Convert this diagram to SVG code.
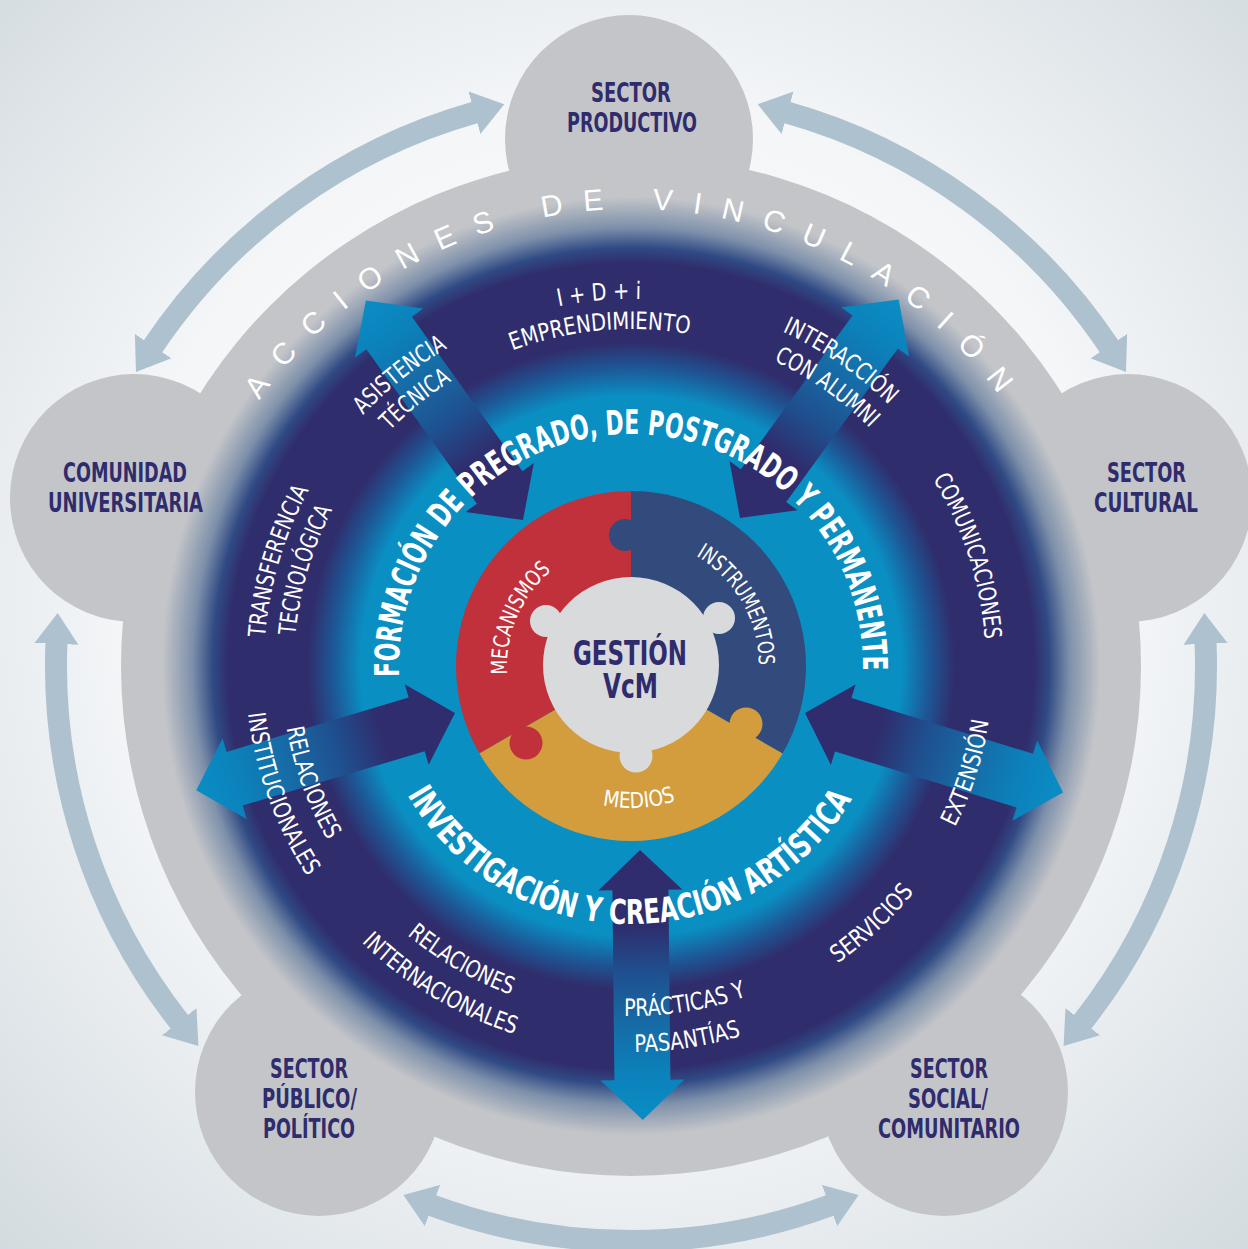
<svg xmlns="http://www.w3.org/2000/svg" width="1248" height="1249" viewBox="0 0 1248 1249">
<defs>
<style>
.lbl{font-family:"Liberation Sans Narrow","DejaVu Sans Condensed","Roboto Condensed","Liberation Sans",Arial,sans-serif;font-size:24px;fill:#ffffff;}
.bld{font-family:"Liberation Sans Narrow","DejaVu Sans Condensed","Roboto Condensed","Liberation Sans",Arial,sans-serif;font-weight:bold;font-size:34px;fill:#ffffff;}
.sec{font-family:"Liberation Sans Narrow","DejaVu Sans Condensed","Roboto Condensed","Liberation Sans",Arial,sans-serif;font-weight:bold;font-size:26px;fill:#2e2c6c;text-anchor:middle;}
.acc{font-family:"Liberation Sans",Arial,sans-serif;font-size:30px;fill:#ffffff;}
.circ{fill:#c4c5c9;}
.la{fill:none;stroke:#adc2ce;stroke-width:22;marker-start:url(#lh);marker-end:url(#lh);}
.da{fill:url(#ag);}
.cg{fill:#d9dadc;}
</style>
<radialGradient id="bg" cx="624" cy="600" r="900" gradientUnits="userSpaceOnUse">
<stop offset="0" stop-color="#ffffff"/>
<stop offset="0.55" stop-color="#f4f6f8"/>
<stop offset="1" stop-color="#d3dbe0"/>
</radialGradient>
<radialGradient id="disk" cx="631" cy="666" r="510" gradientUnits="userSpaceOnUse">
<stop offset="0" stop-color="#0a8fc3"/>
<stop offset="0.53" stop-color="#0a8fc3"/>
<stop offset="0.585" stop-color="#1d5796"/>
<stop offset="0.635" stop-color="#302d6c"/>
<stop offset="0.79" stop-color="#302d6c"/>
<stop offset="0.82" stop-color="#2f4a84"/>
<stop offset="0.86" stop-color="#7d90aa"/>
<stop offset="0.92" stop-color="#c4c5c9"/>
<stop offset="1" stop-color="#c4c5c9"/>
</radialGradient>
<linearGradient id="ag" gradientUnits="userSpaceOnUse" x1="0" y1="0" x2="270" y2="0">
<stop offset="0" stop-color="#2f2d6d"/>
<stop offset="0.28" stop-color="#2f2d6d"/>
<stop offset="0.45" stop-color="#1f4f8e"/>
<stop offset="0.63" stop-color="#1769a4"/>
<stop offset="0.82" stop-color="#0c80ba"/>
<stop offset="1" stop-color="#0a8ec4"/>
</linearGradient>
<marker id="lh" markerUnits="userSpaceOnUse" markerWidth="32" markerHeight="46" viewBox="-1 -23 32 46" refX="0" refY="0" orient="auto-start-reverse">
<path d="M-1,-22 L30,0 L-1,22 Z" fill="#adc2ce"/>
</marker>
<path id="cw367" d="M631,1033 A367,367 0 0 1 631,299 A367,367 0 0 1 631,1033"/>
<path id="cw337" d="M631,1003 A337,337 0 0 1 631,329 A337,337 0 0 1 631,1003"/>
<path id="cw355" d="M631,1021 A355,355 0 0 1 631,311 A355,355 0 0 1 631,1021"/>
<path id="cw232" d="M631,898 A232,232 0 0 1 631,434 A232,232 0 0 1 631,898"/>
<path id="cw124" d="M631,790 A124,124 0 0 1 631,542 A124,124 0 0 1 631,790"/>
<path id="cw128" d="M631,794 A128,128 0 0 1 631,538 A128,128 0 0 1 631,794"/>
<path id="cw457" d="M631,1123 A457,457 0 0 1 631,209 A457,457 0 0 1 631,1123"/>
<path id="ccw350" d="M631,316 A350,350 0 0 0 631,1016 A350,350 0 0 0 631,316"/>
<path id="ccw386" d="M631,280 A386,386 0 0 0 631,1052 A386,386 0 0 0 631,280"/>
<path id="ccw362" d="M631,304 A362,362 0 0 0 631,1028 A362,362 0 0 0 631,304"/>
<path id="ccw258" d="M631,408 A258,258 0 0 0 631,924 A258,258 0 0 0 631,408"/>
<path id="ccw142" d="M631,524 A142,142 0 0 0 631,808 A142,142 0 0 0 631,524"/>
</defs>

<rect x="0" y="0" width="1248" height="1249" fill="url(#bg)"/>

<g id="connectors">
<g id="outer-cycle">
<path class="la" d="M152.63,346.97 A575,575 0 0 1 475.40,112.45"/>
<path class="la" d="M786.60,112.45 A575,575 0 0 1 1109.37,346.97"/>
<path class="la" d="M1205.54,642.93 A575,575 0 0 1 1082.16,1022.47"/>
<path class="la" d="M830.49,1205.29 A575,575 0 0 1 431.51,1205.29"/>
<path class="la" d="M179.84,1022.47 A575,575 0 0 1 56.46,642.93"/>
</g>
</g>

<g id="sector-productivo"><circle class="circ" cx="629" cy="139" r="124"/></g>
<g id="comunidad-universitaria"><circle class="circ" cx="134" cy="498" r="124"/></g>
<g id="sector-cultural"><circle class="circ" cx="1128" cy="498" r="124"/></g>
<g id="sector-publico"><circle class="circ" cx="319" cy="1092" r="124"/></g>
<g id="sector-social"><circle class="circ" cx="944" cy="1092" r="124"/></g>

<g id="acciones-ring">
<circle cx="631" cy="666" r="510" fill="url(#disk)"/>
</g>

<g id="radial-arrows">
<path class="da" transform="translate(523,520) rotate(-125.6)" d="M0,0 L40,-42 L40,-28 L230,-28 L230,-42 L270,0 L230,42 L230,28 L40,28 L40,42 Z"/>
<path class="da" transform="translate(740,518) rotate(-54)" d="M0,0 L40,-42 L40,-28 L230,-28 L230,-42 L270,0 L230,42 L230,28 L40,28 L40,42 Z"/>
<path class="da" transform="translate(805,713) rotate(17.1)" d="M0,0 L40,-42 L40,-28 L230,-28 L230,-42 L270,0 L230,42 L230,28 L40,28 L40,42 Z"/>
<path class="da" transform="translate(640,850) rotate(89.4)" d="M0,0 L40,-42 L40,-28 L230,-28 L230,-42 L270,0 L230,42 L230,28 L40,28 L40,42 Z"/>
<path class="da" transform="translate(455,713) rotate(163.4)" d="M0,0 L40,-42 L40,-28 L230,-28 L230,-42 L270,0 L230,42 L230,28 L40,28 L40,42 Z"/>
</g>

<g id="sector-texts">
<text class="sec" x="631" y="102" textLength="80" lengthAdjust="spacingAndGlyphs">SECTOR</text>
<text class="sec" x="632" y="132" textLength="130" lengthAdjust="spacingAndGlyphs">PRODUCTIVO</text>
<text class="sec" x="125" y="482" textLength="124" lengthAdjust="spacingAndGlyphs">COMUNIDAD</text>
<text class="sec" x="125.5" y="512" textLength="155" lengthAdjust="spacingAndGlyphs">UNIVERSITARIA</text>
<text class="sec" x="1146.5" y="482" textLength="79" lengthAdjust="spacingAndGlyphs">SECTOR</text>
<text class="sec" x="1146" y="512" textLength="104" lengthAdjust="spacingAndGlyphs">CULTURAL</text>
<text class="sec" x="309" y="1078" textLength="78" lengthAdjust="spacingAndGlyphs">SECTOR</text>
<text class="sec" x="309.5" y="1108" textLength="95" lengthAdjust="spacingAndGlyphs">PÚBLICO/</text>
<text class="sec" x="309" y="1138" textLength="92" lengthAdjust="spacingAndGlyphs">POLÍTICO</text>
<text class="sec" x="949" y="1078" textLength="78" lengthAdjust="spacingAndGlyphs">SECTOR</text>
<text class="sec" x="948" y="1108" textLength="80" lengthAdjust="spacingAndGlyphs">SOCIAL/</text>
<text class="sec" x="949" y="1138" textLength="142" lengthAdjust="spacingAndGlyphs">COMUNITARIO</text>
</g>

<g id="acciones-title">
<text class="acc" text-anchor="middle"><textPath href="#cw457" startOffset="1431.7" textLength="861" lengthAdjust="spacing">ACCIONES DE VINCULACIÓN</textPath></text>
</g>

<g id="action-labels">
<text class="lbl" text-anchor="middle"><textPath href="#cw367" startOffset="1120.9" textLength="83" lengthAdjust="spacingAndGlyphs">I + D + i</textPath></text>
<text class="lbl" text-anchor="middle"><textPath href="#cw337" startOffset="1027" textLength="180" lengthAdjust="spacingAndGlyphs">EMPRENDIMIENTO</textPath></text>
<text class="lbl" text-anchor="middle"><textPath href="#cw367" startOffset="906.4" textLength="108" lengthAdjust="spacingAndGlyphs">ASISTENCIA</textPath></text>
<text class="lbl" text-anchor="middle"><textPath href="#cw337" startOffset="829.3" textLength="80" lengthAdjust="spacingAndGlyphs">TÉCNICA</textPath></text>
<text class="lbl" text-anchor="middle"><textPath href="#cw367" startOffset="1373.3" textLength="130" lengthAdjust="spacingAndGlyphs">INTERACCIÓN</textPath></text>
<text class="lbl" text-anchor="middle"><textPath href="#cw337" startOffset="1264.6" textLength="118" lengthAdjust="spacingAndGlyphs">CON ALUMNI</textPath></text>
<text class="lbl" text-anchor="middle"><textPath href="#cw355" startOffset="1560.1" textLength="170" lengthAdjust="spacingAndGlyphs">COMUNICACIONES</textPath></text>
<text class="lbl" text-anchor="middle"><textPath href="#ccw362" startOffset="1594" textLength="112" lengthAdjust="spacingAndGlyphs">EXTENSIÓN</textPath></text>
<text class="lbl" text-anchor="middle"><textPath href="#ccw362" startOffset="1408.9" textLength="105" lengthAdjust="spacingAndGlyphs">SERVICIOS</textPath></text>
<text class="lbl" text-anchor="middle"><textPath href="#ccw350" startOffset="1154.5" textLength="125" lengthAdjust="spacingAndGlyphs">PRÁCTICAS Y</textPath></text>
<text class="lbl" text-anchor="middle"><textPath href="#ccw386" startOffset="1269.9" textLength="108" lengthAdjust="spacingAndGlyphs">PASANTÍAS</textPath></text>
<text class="lbl" text-anchor="middle"><textPath href="#ccw350" startOffset="916.3" textLength="120" lengthAdjust="spacingAndGlyphs">RELACIONES</textPath></text>
<text class="lbl" text-anchor="middle"><textPath href="#ccw386" startOffset="1003.8" textLength="180" lengthAdjust="spacingAndGlyphs">INTERNACIONALES</textPath></text>
<text class="lbl" text-anchor="middle"><textPath href="#ccw350" startOffset="672" textLength="120" lengthAdjust="spacingAndGlyphs">RELACIONES</textPath></text>
<text class="lbl" text-anchor="middle"><textPath href="#ccw386" startOffset="741.1" textLength="175" lengthAdjust="spacingAndGlyphs">INSTITUCIONALES</textPath></text>
<text class="lbl" text-anchor="middle"><textPath href="#cw367" startOffset="682.2" textLength="155" lengthAdjust="spacingAndGlyphs">TRANSFERENCIA</textPath></text>
<text class="lbl" text-anchor="middle"><textPath href="#cw337" startOffset="625.8" textLength="132" lengthAdjust="spacingAndGlyphs">TECNOLÓGICA</textPath></text>
</g>

<g id="formacion-investigacion">
<text class="bld" text-anchor="middle"><textPath href="#cw232" startOffset="725.4" textLength="744" lengthAdjust="spacingAndGlyphs">FORMACIÓN DE PREGRADO, DE POSTGRADO Y PERMANENTE</textPath></text>
<text class="bld" text-anchor="middle"><textPath href="#ccw258" startOffset="807.8" textLength="536" lengthAdjust="spacingAndGlyphs">INVESTIGACIÓN Y CREACIÓN ARTÍSTICA</textPath></text>
</g>

<g id="puzzle">
<g id="mecanismos">
<path fill="#c0313b" d="M631,666 L479.45,753.5 A175,175 0 0 1 631,491 Z"/>
</g>
<g id="instrumentos">
<path fill="#324a7c" d="M631,666 L631,491 A175,175 0 0 1 782.55,753.5 Z"/>
<circle fill="#324a7c" cx="625" cy="535" r="16"/>
</g>
<g id="medios">
<path fill="#d39d3d" d="M631,666 L782.55,753.5 A175,175 0 0 1 479.45,753.5 Z"/>
<circle fill="#d39d3d" cx="746" cy="724" r="16.5"/>
</g>
<circle fill="#c0313b" cx="526" cy="743" r="16.5"/>
<g id="puzzle-labels">
<text class="lbl" style="font-size:22px" text-anchor="middle"><textPath href="#cw124" startOffset="244.6" textLength="117" lengthAdjust="spacingAndGlyphs">MECANISMOS</textPath></text>
<text class="lbl" style="font-size:22px" text-anchor="middle"><textPath href="#cw128" startOffset="536.2" textLength="132" lengthAdjust="spacingAndGlyphs">INSTRUMENTOS</textPath></text>
<text class="lbl" style="font-size:22px" text-anchor="middle"><textPath href="#ccw142" startOffset="454.3" textLength="74" lengthAdjust="spacingAndGlyphs">MEDIOS</textPath></text>
</g>
</g>

<g id="gestion-vcm">
<circle class="cg" cx="631" cy="665" r="88"/>
<circle class="cg" cx="546" cy="621" r="16"/>
<circle class="cg" cx="719" cy="618" r="16"/>
<circle class="cg" cx="636" cy="756" r="16.5"/>
<text class="sec" style="font-size:33px" x="630" y="665" textLength="114" lengthAdjust="spacingAndGlyphs">GESTIÓN</text>
<text class="sec" style="font-size:33px" x="630.5" y="698" textLength="55" lengthAdjust="spacingAndGlyphs">VcM</text>
</g>
</svg>
